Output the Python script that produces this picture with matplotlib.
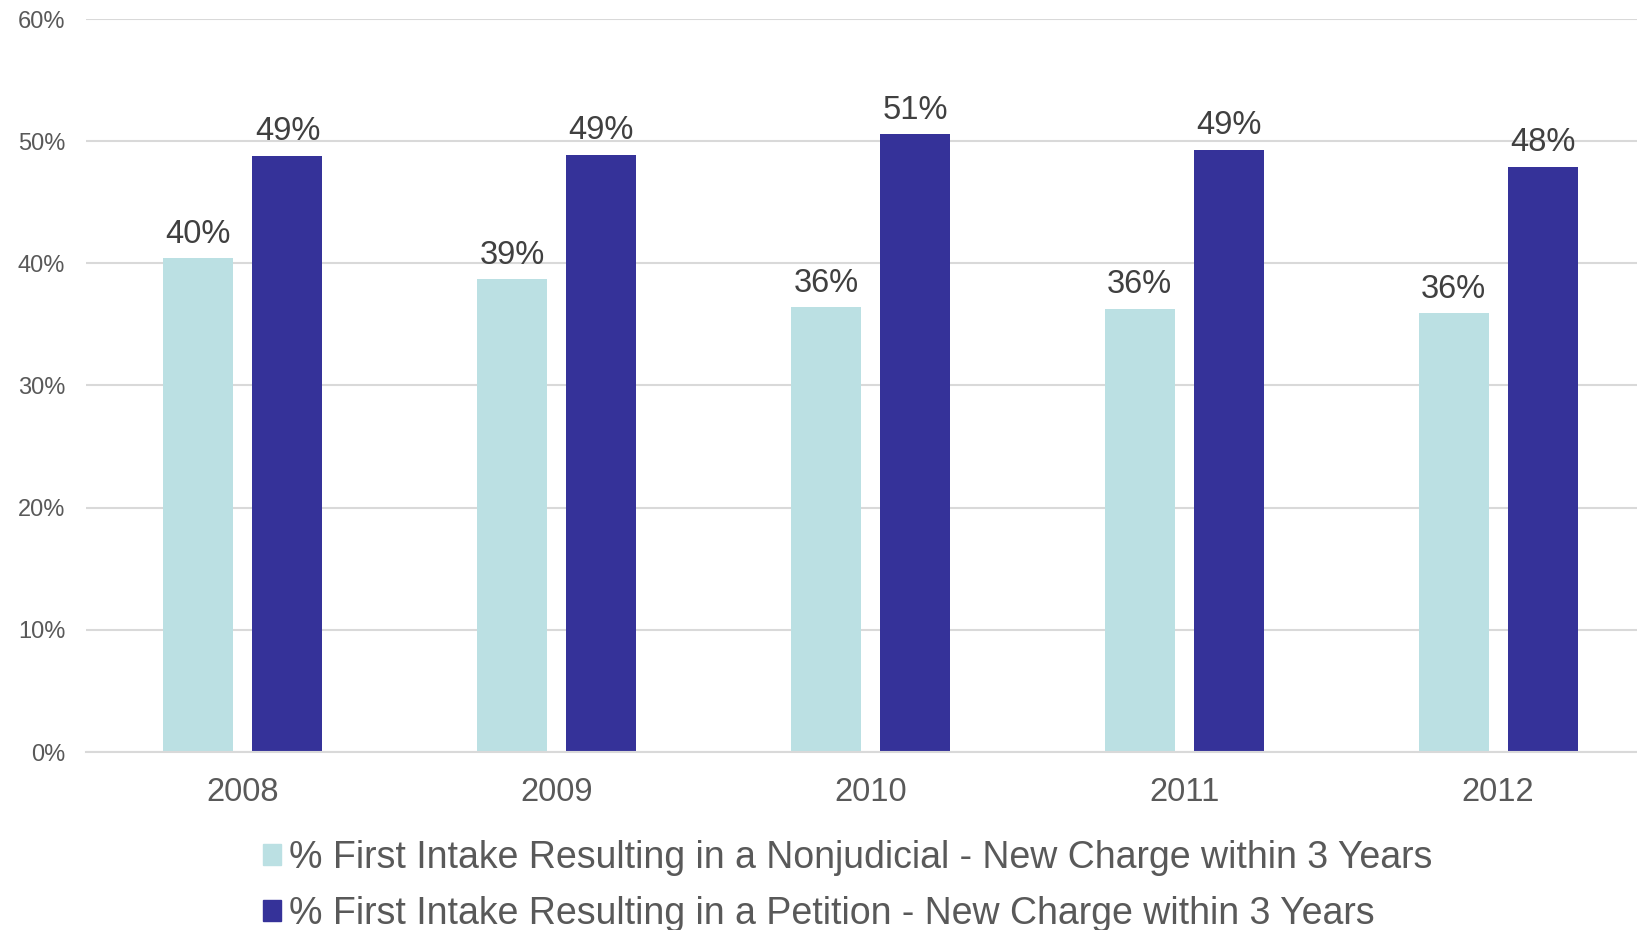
import matplotlib.pyplot as plt
import numpy as np
from matplotlib.patches import Patch

plt.rcParams['font.family'] = ['Liberation Sans', 'DejaVu Sans']

years = ["2008", "2009", "2010", "2011", "2012"]
nonjudicial = [40.4, 38.7, 36.4, 36.3, 35.9]
petition = [48.8, 48.9, 50.6, 49.3, 47.9]
nonjudicial_labels = ["40%", "39%", "36%", "36%", "36%"]
petition_labels = ["49%", "49%", "51%", "49%", "48%"]

light = "#BBE0E3"
dark = "#353299"
grid_col = "#D9D9D9"

fig = plt.figure(figsize=(16.37, 9.30), dpi=100)
ax = fig.add_axes([86 / 1637, 1 - 752 / 930, 1 - 86 / 1637, (752 - 19) / 930])

x = np.arange(len(years))
w = 0.223
off = 0.142
b1 = ax.bar(x - off, nonjudicial, w, color=light, zorder=3)
b2 = ax.bar(x + off, petition, w, color=dark, zorder=3)

# value labels above bars
for bars, labels in [(b1, nonjudicial_labels), (b2, petition_labels)]:
    for bar, lab in zip(bars, labels):
        ax.annotate(lab, (bar.get_x() + bar.get_width() / 2, bar.get_height()),
                    xytext=(0, 6), textcoords="offset points",
                    ha="center", va="bottom", fontsize=23.5, color="#404040")

ax.set_ylim(0, 60)
ax.set_xlim(-0.5, (1637 - 86) / 313.8 - 0.5)
ax.set_yticks(range(0, 61, 10))
ax.set_yticklabels([f"{v}%" for v in range(0, 61, 10)])
ax.set_xticks(x)
ax.set_xticklabels(years)
ax.tick_params(axis="y", length=0, pad=15, labelsize=17, labelcolor="#595959")
ax.tick_params(axis="x", length=0, pad=18, labelsize=23.5, labelcolor="#595959")

ax.grid(axis="y", color=grid_col, linewidth=1.5, zorder=0)
for s in ["top", "right", "left"]:
    ax.spines[s].set_visible(False)
ax.spines["bottom"].set_color(grid_col)
ax.spines["bottom"].set_linewidth(1.5)
ax.spines["bottom"].set_zorder(4)

handles = [Patch(color=light), Patch(color=dark)]
names = ["% First Intake Resulting in a Nonjudicial - New Charge within 3 Years",
         "% First Intake Resulting in a Petition - New Charge within 3 Years"]
fig.legend(handles, names, loc="upper left", bbox_to_anchor=(263 / 1637, 1 - 840 / 930),
           frameon=False, fontsize=27, labelcolor="#595959",
           borderaxespad=0, borderpad=0,
           handlelength=0.48, handleheight=0.48, handletextpad=0.22, labelspacing=0.52)

fig.savefig("out.png", dpi=100)
